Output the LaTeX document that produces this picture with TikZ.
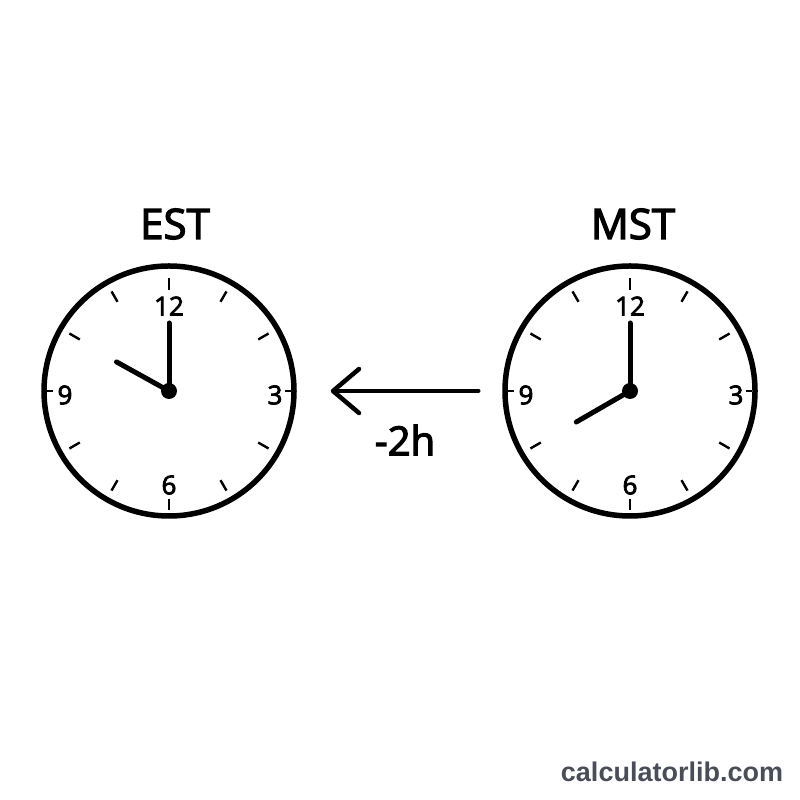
\documentclass[tikz,border=0pt]{standalone}
\usepackage{fontspec}
\setmainfont{Open Sans}
\newfontfamily\medfont[FakeBold=3]{Open Sans}
\newfontfamily\markfont{Liberation Sans}
\usetikzlibrary{arrows.meta}
\definecolor{markgray}{RGB}{72,77,87}

\begin{document}
\begin{tikzpicture}[x=1pt,y=1pt,
				face/.style={circle,draw,line width=5.5pt,
									minimum size=250pt,inner sep=0pt},
				tickmark/.style={line width=2.4pt},
				num/.style={font=\medfont\fontsize{26}{26}\selectfont},
				zone/.style={font=\medfont\fontsize{42}{42}\selectfont},
				hand/.style={line width=5pt,line cap=round}]
\path[use as bounding box] (0,0) rectangle (800,800);

	\node[face] (est) at (169,409) {};
	\node[face] (mst) at (630,409) {};
	\node[zone] (est_name) at (175,576) {EST};
	\node[zone] (mst_name) at (633,576) {MST};

  % ticks and numbers on both faces
  \foreach \c in {est,mst} {
    \foreach \a in {30,60,120,150,210,240,300,330}
      \draw[tickmark] (\c.center) ++(\a:103) -- ++(\a:12);
    \draw[tickmark] (\c.center) ++(90:101) -- ++(90:12);
    \draw[tickmark] (\c.center) ++(270:108) -- ++(270:11);
    \draw[tickmark] (\c.center) ++(0:116) -- ++(0:6);
    \draw[tickmark] (\c.center) ++(180:116) -- ++(180:6);
    \node[num] (\c_12) at ([yshift=85]\c.center) {12};
    \node[num] (\c_3) at ([xshift=106,yshift=-4]\c.center) {3};
    \node[num] (\c_6) at ([yshift=-94]\c.center) {6};
    \node[num] (\c_9) at ([xshift=-104,yshift=-4]\c.center) {9};
    \draw[hand] (\c.center) -- ++(90:68);
    \fill (\c.center) circle (8);
  }
	\draw[hand] (est.center) -- ++(151:60);
	\draw[hand] (mst.center) -- ++(210:62);

  \draw[line width=4.5pt,line cap=round,
	-{Straight Barb[length=26pt,width=44pt,round]},
	shorten <=24pt,shorten >=34pt] (mst.west) -- (est.east);
	\node[font=\medfont\fontsize{40}{40}\selectfont] (shift) at (405,360) {-2h};

	\node[font=\markfont\bfseries\fontsize{27}{27}\selectfont,
	text=markgray] (mark) at (672,28) {calculatorlib.com};
\end{tikzpicture}
\end{document}
